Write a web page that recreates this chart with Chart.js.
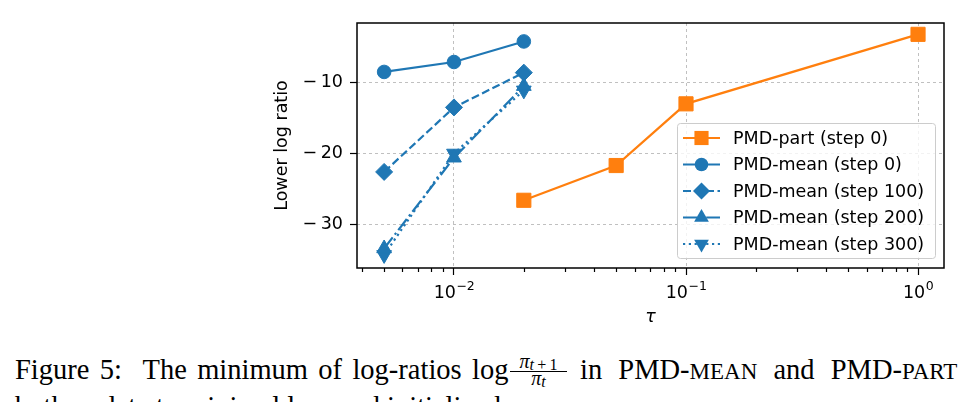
<!DOCTYPE html>
<html>
<head>
<meta charset="utf-8">
<script src="https://cdn.jsdelivr.net/npm/chart.js@4/dist/chart.umd.min.js"></script>
<style>
  html, body { margin: 0; padding: 0; background: #fff; }
  body { width: 965px; height: 402px; overflow: hidden; position: relative; }
  #wrap { position: absolute; left: 0; top: 0; width: 965px; height: 335px; }
  .cap {
    position: absolute; font-family: 'Liberation Serif', serif;
    font-size: 28.5px; line-height: 28px; color: #000; white-space: nowrap;
  }
  .sc { font-size: 23px; }
  .m { position: absolute; font-family: 'Liberation Serif', serif; line-height: 20px; font-size: 20px; white-space: nowrap; text-align: center; }
  .m i { font-style: italic; }
  .m .s { font-size: 16px; position: relative; top: 2px; }
  .bar { position: absolute; left: 510px; width: 57px; top: 371px; height: 0; border-top: 1.3px solid #000; }
</style>
</head>
<body>
<div id="wrap"><canvas id="chart" width="965" height="335"></canvas></div>
<div class="cap" style="left:15px; top:356px; word-spacing:3.2px;">Figure 5: &nbsp;The minimum of log-ratios log</div>
<div class="m" style="left:510px; width:57px; top:351px;"><i>π</i><span class="s"><i>t</i>&#8201;+&#8201;1</span></div>
<div class="bar"></div>
<div class="m" style="left:510px; width:57px; top:368px;"><i>π</i><span class="s"><i>t</i></span></div>
<div class="cap" style="left:580px; top:356px; word-spacing:9px;">in PMD-<span class="sc">MEAN</span> and PMD-<span class="sc">PART</span></div>
<div class="cap" style="left:15px; top:393px;">both update to minimal loss and initialized</div>
<script>
// tau values (x axis, log scale)
const tauMean = [0.005, 0.01, 0.02];
const tauPart = [0.02, 0.05, 0.1, 1];

// lower log ratio per series
const partStep0 = [-26.6, -21.7, -13.0, -3.2];
const meanStep0 = [-8.5, -7.1, -4.2];
const meanStep100 = [-22.6, -13.5, -8.6];
const meanStep200 = [-33.4, -20.6, -10.5];
const meanStep300 = [-34.3, -20.0, -11.1];

const seriesLabels = ['PMD-part (step 0)', 'PMD-mean (step 0)', 'PMD-mean (step 100)', 'PMD-mean (step 200)', 'PMD-mean (step 300)'];

// ticks
const xMajorTicks = [0.01, 0.1, 1];
const xTickBase = '10';
const xTickExp = ['\u22122', '\u22121', '0'];
const yTicks = [-30, -20, -10];

const ORANGE = '#ff7f0e';
const BLUE = '#1f77b4';
const FONT = "'DejaVu Sans', sans-serif";

const toPoints = (xs, ys) => xs.map((x, i) => ({ x: x, y: ys[i] }));

function isDecade(v) {
    const l = Math.log10(v);
    return Math.abs(l - Math.round(l)) < 1e-6;
}

// all tick positions on the log axis (major + minor)
const xAllTicks = [];
[0.001, 0.01, 0.1, 1].forEach(d => {
    for (let k = 1; k <= 9; k++) {
        const v = +(d * k).toPrecision(6);
        if (v >= 0.00382 && v <= 1.294) xAllTicks.push(v);
    }
});

function drawMarker(ctx, style, x, y, r, rot) {
    ctx.beginPath();
    if (style === 'circle') {
        ctx.arc(x, y, r, 0, Math.PI * 2);
    } else if (style === 'rect') {
        const s = r * Math.SQRT1_2;
        ctx.rect(x - s, y - s, 2 * s, 2 * s);
    } else if (style === 'rectRot') {
        const s = r;
        ctx.moveTo(x, y - s); ctx.lineTo(x + s, y); ctx.lineTo(x, y + s); ctx.lineTo(x - s, y);
    } else if (style === 'triangle') {
        let a = (rot || 0) * Math.PI / 180;
        for (let i = 0; i < 3; i++) {
            const px = x + Math.sin(a) * r, py = y - Math.cos(a) * r;
            if (i === 0) ctx.moveTo(px, py); else ctx.lineTo(px, py);
            a += Math.PI * 2 / 3;
        }
    }
    ctx.closePath();
    ctx.fill();
}

const framePlugin = {
    id: 'frame',
    afterDatasetsDraw(chart) {
        const { ctx, chartArea: ca } = chart;
        const xs = chart.scales.x;

        ctx.save();
        // minor ticks on the log axis
        ctx.strokeStyle = '#000';
        ctx.lineWidth = 1.2;
        xAllTicks.forEach(v => {
            if (isDecade(v)) return;
            const px = Math.round(xs.getPixelForValue(v)) + 0.5;
            ctx.beginPath();
            ctx.moveTo(px, ca.bottom);
            ctx.lineTo(px, ca.bottom + 4);
            ctx.stroke();
        });

        // decade labels with raised exponent
        ctx.fillStyle = '#000';
        ctx.textBaseline = 'alphabetic';
        ctx.textAlign = 'left';
        xMajorTicks.forEach((v, i) => {
            const px = xs.getPixelForValue(v);
            ctx.font = '17.5px ' + FONT;
            const w1 = ctx.measureText(xTickBase).width;
            ctx.font = '12.5px ' + FONT;
            const w2 = ctx.measureText(xTickExp[i]).width;
            const x0 = px - (w1 + w2) / 2;
            ctx.font = '17.5px ' + FONT;
            ctx.fillText(xTickBase, x0, ca.bottom + 30);
            ctx.font = '12.5px ' + FONT;
            ctx.fillText(xTickExp[i], x0 + w1 + 0.5, ca.bottom + 22);
        });

        // legend
        const w = 258, h = 135;
        const lx = ca.right - 9 - w, ly = ca.bottom - 10 - h;
        ctx.fillStyle = 'rgba(255,255,255,0.8)';
        ctx.strokeStyle = '#cccccc';
        ctx.lineWidth = 1;
        ctx.beginPath();
        ctx.roundRect(lx + 0.5, ly + 0.5, w, h, 3);
        ctx.fill();
        ctx.stroke();

        chart.data.datasets.forEach((ds, i) => {
            const cy = ly + 15 + i * 26.5;
            ctx.strokeStyle = ds.borderColor;
            ctx.lineWidth = ds.borderWidth;
            ctx.setLineDash(ds.borderDash || []);
            ctx.beginPath();
            ctx.moveTo(lx + 6, cy);
            ctx.lineTo(lx + 43, cy);
            ctx.stroke();
            ctx.setLineDash([]);
            ctx.fillStyle = ds.pointBackgroundColor;
            drawMarker(ctx, ds.pointStyle, lx + 24.5, cy, ds.pointRadius, ds.pointRotation);
            ctx.fillStyle = '#000';
            ctx.font = '17.5px ' + FONT;
            ctx.textBaseline = 'middle';
            ctx.textAlign = 'left';
            ctx.fillText(ds.label, lx + 56, cy + 1);
        });

        // axes frame
        ctx.strokeStyle = '#000';
        ctx.lineWidth = 1.5;
        ctx.strokeRect(ca.left, ca.top, ca.right - ca.left, ca.bottom - ca.top);
        ctx.restore();
    }
};

function series(label, xs, ys, color, style, radius, dash, rot) {
    return {
        label: label,
        data: toPoints(xs, ys),
        borderColor: color,
        backgroundColor: color,
        pointBackgroundColor: color,
        pointBorderColor: color,
        pointBorderWidth: 1,
        borderWidth: 2.2,
        borderDash: dash,
        borderCapStyle: 'butt',
        pointStyle: style,
        pointRadius: radius,
        pointRotation: rot || 0,
        showLine: true,
        tension: 0,
        clip: false
    };
}

new Chart(document.getElementById('chart').getContext('2d'), {
    type: 'scatter',
    data: {
        datasets: [
            series(seriesLabels[0], tauPart, partStep0, ORANGE, 'rect', 10, []),
            series(seriesLabels[1], tauMean, meanStep0, BLUE, 'circle', 6.8, []),
            series(seriesLabels[2], tauMean, meanStep100, BLUE, 'rectRot', 8.5, [8, 3.5]),
            series(seriesLabels[3], tauMean, meanStep200, BLUE, 'triangle', 8.5, [14, 3.5, 2.2, 3.5]),
            series(seriesLabels[4], tauMean, meanStep300, BLUE, 'triangle', 8.5, [2.2, 3.6], 180)
        ]
    },
    options: {
        responsive: false,
        animation: false,
        layout: { padding: { left: 270, right: 21, top: 23, bottom: 0 } },
        plugins: {
            legend: { display: false },
            tooltip: { enabled: false }
        },
        scales: {
            x: {
                type: 'logarithmic',
                min: 0.00382,
                max: 1.294,
                afterBuildTicks: s => { s.ticks = xAllTicks.map(v => ({ value: v, major: isDecade(v) })); },
                afterFit: s => { s.height = 67; },
                border: { display: false, dash: [3, 3] },
                grid: {
                    color: c => (c.tick && isDecade(c.tick.value)) ? '#b0b0b0' : 'rgba(0,0,0,0)',
                    lineWidth: 0.8,
                    tickColor: c => (c.tick && isDecade(c.tick.value)) ? '#000' : 'rgba(0,0,0,0)',
                    tickLength: 7,
                    tickWidth: 1.2
                },
                ticks: {
                    autoSkip: false,
                    maxRotation: 0,
                    callback: () => ''
                },
                title: {
                    display: true,
                    text: 'τ',
                    color: '#000',
                    font: { family: FONT, size: 17.5, style: 'italic' },
                    padding: { top: 0, bottom: 7 }
                }
            },
            y: {
                type: 'linear',
                min: -36.15,
                max: -1.6,
                afterBuildTicks: s => { s.ticks = yTicks.map(v => ({ value: v })); },
                afterFit: s => { s.width = 87; },
                border: { display: false, dash: [3, 3] },
                grid: {
                    color: '#b0b0b0',
                    lineWidth: 0.8,
                    tickColor: '#000',
                    tickLength: 7,
                    tickWidth: 1.2
                },
                ticks: {
                    padding: 7,
                    color: '#000',
                    font: { family: FONT, size: 17.5 },
                    callback: v => '\u2212\u2009' + Math.abs(v)
                },
                title: {
                    display: true,
                    text: 'Lower log ratio',
                    color: '#000',
                    font: { family: FONT, size: 17.5 },
                    padding: { top: 2, bottom: 0 }
                }
            }
        }
    },
    plugins: [framePlugin]
});
</script>
</body>
</html>
